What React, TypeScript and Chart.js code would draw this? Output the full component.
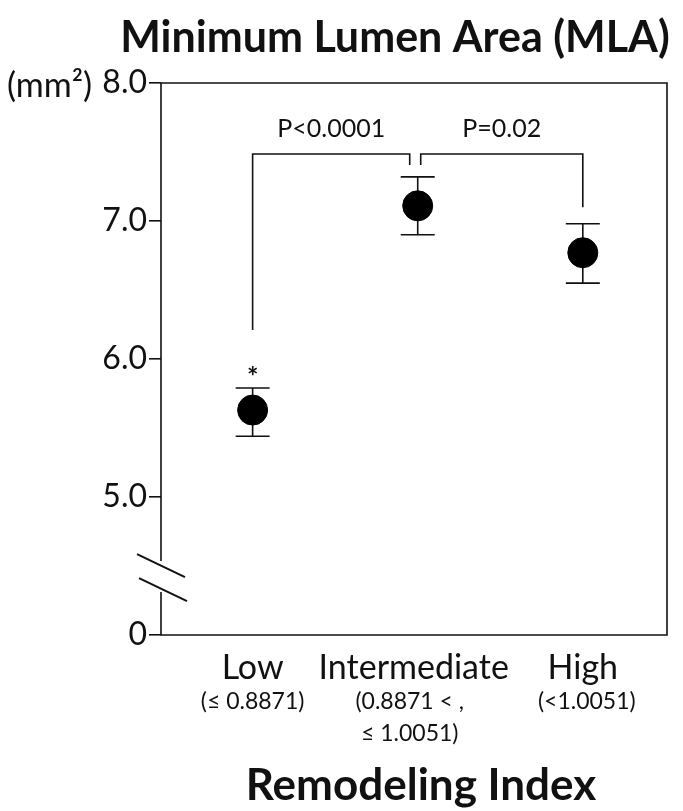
import React, { useEffect, useRef } from "react";
import { Chart, registerables } from "chart.js";

Chart.register(...registerables);

// ---- data ----
const categories = ["Low", "Intermediate", "High"];
const subLabels: string[][] = [["(≤ 0.8871)"], ["(0.8871 < ,", "≤ 1.0051)"], ["(<1.0051)"]];
const xPositions = [1, 2, 3];
const means = [5.63, 7.11, 6.77];
const upperErr = [5.79, 7.32, 6.98];
const lowerErr = [5.44, 6.9, 6.55];
const yTickValues = [4, 5, 6, 7, 8];
const yTickLabels = ["0", "5.0", "6.0", "7.0", "8.0"];
const comparisons = [
  { from: 0, to: 1, label: "P<0.0001" },
  { from: 1, to: 2, label: "P=0.02" },
];
const significant = [true, false, false];

const FONT = "Lato, 'Open Sans', sans-serif";
const INK = "#111";

const overlay = {
  id: "overlay",
  beforeDatasetsDraw(chart: any) {
    const { ctx, chartArea: a, scales } = chart;
    const x = scales.x;
    const y = scales.y;
    ctx.save();
    ctx.strokeStyle = INK;
    ctx.lineWidth = 1.6;
    // frame
    const breakY = y.getPixelForValue(4.42);
    ctx.beginPath();
    ctx.moveTo(a.left, breakY - 16);
    ctx.lineTo(a.left, a.top);
    ctx.lineTo(a.right, a.top);
    ctx.lineTo(a.right, a.bottom);
    ctx.lineTo(a.left, a.bottom);
    ctx.lineTo(a.left, breakY + 15);
    ctx.stroke();
    // axis break marks
    ctx.lineWidth = 2;
    ctx.beginPath();
    ctx.moveTo(a.left - 24, breakY - 23);
    ctx.lineTo(a.left + 24, breakY);
    ctx.moveTo(a.left - 22, breakY + 1);
    ctx.lineTo(a.left + 26, breakY + 24);
    ctx.stroke();
    // error bars
    ctx.lineWidth = 1.6;
    const cap = 17;
    for (let i = 0; i < means.length; i++) {
      const px = x.getPixelForValue(xPositions[i]);
      const top = y.getPixelForValue(upperErr[i]);
      const bot = y.getPixelForValue(lowerErr[i]);
      ctx.beginPath();
      ctx.moveTo(px, top);
      ctx.lineTo(px, bot);
      ctx.moveTo(px - cap, top);
      ctx.lineTo(px + cap, top);
      ctx.moveTo(px - cap, bot);
      ctx.lineTo(px + cap, bot);
      ctx.stroke();
    }
    // significance brackets
    const outerY = y.getPixelForValue(7.485);
    const innerY = y.getPixelForValue(7.405);
    const lowEnd = y.getPixelForValue(6.21);
    const highEnd = y.getPixelForValue(7.1);
    const pLow = x.getPixelForValue(xPositions[0]);
    const pMid = x.getPixelForValue(xPositions[1]);
    const pHigh = x.getPixelForValue(xPositions[2]);
    ctx.beginPath();
    ctx.moveTo(pLow, lowEnd);
    ctx.lineTo(pLow, outerY);
    ctx.lineTo(pMid - 8, outerY);
    ctx.lineTo(pMid - 8, innerY);
    ctx.moveTo(pMid + 3, innerY);
    ctx.lineTo(pMid + 3, outerY);
    ctx.lineTo(pHigh, outerY);
    ctx.lineTo(pHigh, highEnd);
    ctx.stroke();
    const bx = [[pLow, pMid - 8], [pMid + 3, pHigh]];
    ctx.fillStyle = INK;
    ctx.font = `25px ${FONT}`;
    ctx.textAlign = "center";
    ctx.textBaseline = "alphabetic";
    comparisons.forEach((c, k) => {
      ctx.fillText(c.label, (bx[k][0] + bx[k][1]) / 2, y.getPixelForValue(7.61));
    });
    // asterisk
    ctx.font = `bold 27px ${FONT}`;
    significant.forEach((s, i) => {
      if (s) ctx.fillText("*", x.getPixelForValue(xPositions[i]), y.getPixelForValue(upperErr[i]) - 2);
    });
    ctx.restore();
  },
  afterDraw(chart: any) {
    const { ctx, chartArea: a, scales } = chart;
    const x = scales.x;
    ctx.save();
    ctx.fillStyle = INK;
    ctx.textAlign = "center";
    ctx.textBaseline = "alphabetic";
    // title
    ctx.font = `bold 43px ${FONT}`;
    ctx.fillText("Minimum Lumen Area (MLA)", 395, 52);
    // category labels
    categories.forEach((c, i) => {
      const px = x.getPixelForValue(xPositions[i]);
      ctx.font = `34px ${FONT}`;
      ctx.fillText(c, px - (i === 1 ? 4 : 0), a.bottom + 44);
      ctx.font = `23px ${FONT}`;
      subLabels[i].forEach((s, j) => {
        ctx.fillText(s, px - (i === 1 ? 8 : 0) + (i === 2 ? 4 : 0), a.bottom + 74 + j * 32);
      });
    });
    // x axis title
    ctx.font = `bold 44px ${FONT}`;
    ctx.fillText("Remodeling Index", 421, 800);
    // y unit
    ctx.font = `34px ${FONT}`;
    ctx.textAlign = "left";
    ctx.textBaseline = "middle";
    ctx.fillText("(mm²)", 7, a.top + 3);
    ctx.restore();
  },
};

export default function App() {
  const ref = useRef<HTMLCanvasElement | null>(null);
  useEffect(() => {
    document.body.style.margin = "0";
    const chart = new Chart(ref.current as HTMLCanvasElement, {
      type: "scatter",
      data: {
        datasets: [
          {
            data: xPositions.map((xv, i) => ({ x: xv, y: means[i] })),
            backgroundColor: "#000",
            borderColor: "#000",
            pointRadius: 15,
            pointHoverRadius: 15,
          },
        ],
      },
      options: {
        animation: false,
        responsive: false,
        events: [],
        layout: { padding: { top: 83, right: 4, bottom: 176, left: 0 } },
        plugins: { legend: { display: false }, tooltip: { enabled: false }, title: { display: false } },
        scales: {
          x: { type: "linear", min: 0.445, max: 3.51, display: false },
          y: {
            type: "linear",
            min: 4,
            max: 8,
            afterFit: (s: any) => {
              s.width = 161;
            },
            afterBuildTicks: (s: any) => {
              s.ticks = yTickValues.map((v) => ({ value: v }));
            },
            ticks: {
              callback: (v: any) => yTickLabels[yTickValues.indexOf(Number(v))] ?? "",
              font: { family: FONT, size: 32 },
              color: INK,
              padding: 2,
            },
            grid: { drawOnChartArea: false, tickLength: 12, color: INK, lineWidth: 1.6 },
            border: { display: false },
          },
        },
      },
      plugins: [overlay],
    });
    return () => chart.destroy();
  }, []);
  return (
    <div style={{ width: 683, height: 811 }}>
      <canvas ref={ref} width={683} height={811} style={{ display: "block" }} />
    </div>
  );
}
